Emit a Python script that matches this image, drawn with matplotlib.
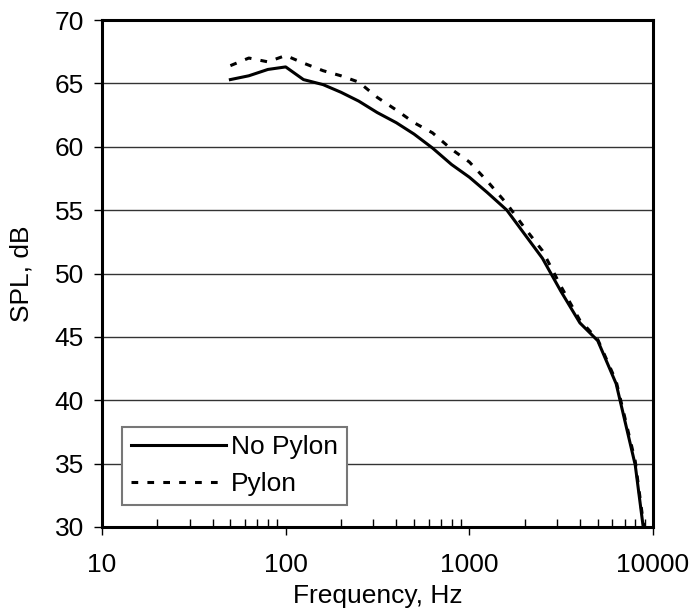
import matplotlib.pyplot as plt
from matplotlib.ticker import LogLocator, NullFormatter, FixedLocator

# Bandes de tiers d'octave (Hz)
freq = [50, 63, 80, 100, 125, 160, 200, 250, 315, 400, 500, 630, 800,
        1000, 1250, 1600, 2000, 2500, 3150, 4000, 5000, 6300, 8000, 10000]

# Niveaux (dB)
spl_no_pylon = [65.3, 65.6, 66.1, 66.3, 65.3, 64.9, 64.3, 63.6, 62.7, 61.9,
                61.0, 59.9, 58.6, 57.6, 56.4, 55.0, 53.1, 51.2, 48.6, 46.1,
                44.7, 41.3, 34.9, 24.0]
spl_pylon = [66.4, 67.0, 66.7, 67.2, 66.6, 66.0, 65.6, 65.1, 63.9, 62.9,
             61.9, 61.1, 59.8, 58.8, 57.3, 55.5, 53.6, 51.8, 49.0, 46.3,
             44.8, 41.5, 35.2, 24.5]

plt.rcParams['font.family'] = ['Liberation Sans', 'DejaVu Sans']
taille = 19

fig = plt.figure(figsize=(6.93, 6.14), dpi=100)
ax = fig.add_axes([0.1472, 0.1417, 0.7951, 0.8257])

ax.plot(freq, spl_no_pylon, color='black', lw=2.2, label='No Pylon')
ax.plot(freq, spl_pylon, color='black', lw=2.2, dashes=(2.2, 3.0), label='Pylon')

ax.set_xscale('log')
ax.set_xlim(10, 10000)
ax.set_ylim(30, 70)
ax.set_yticks(range(30, 71, 5))
ax.xaxis.set_major_locator(FixedLocator([10, 100, 1000, 10000]))
ax.xaxis.set_major_formatter(plt.FuncFormatter(lambda v, p: f"{int(v)}"))
ax.xaxis.set_minor_locator(LogLocator(base=10, subs=range(2, 10)))
ax.xaxis.set_minor_formatter(NullFormatter())

ax.grid(axis='y', color='#333333', lw=1.0)
ax.set_axisbelow(True)

for s in ax.spines.values():
    s.set_linewidth(2.2)

ax.tick_params(axis='y', direction='out', length=6, width=1, labelsize=taille, pad=7)
ax.tick_params(axis='x', which='major', direction='out', length=6, width=1,
               labelsize=taille, pad=13)
ax.tick_params(axis='x', which='minor', direction='in', length=6, width=1)

ax.set_xlabel("Frequency, Hz", fontsize=taille, labelpad=5)
ax.set_ylabel("SPL, dB", fontsize=taille, labelpad=15)

leg = ax.legend(loc='lower left', bbox_to_anchor=(0.036, 0.043), fontsize=taille,
                handlelength=3.6, handletextpad=0.2, borderpad=0.33,
                labelspacing=0.5, fancybox=False, framealpha=1,
                edgecolor='#777777', borderaxespad=0)
leg.get_frame().set_linewidth(1.5)

fig.savefig("out.png", dpi=100)
